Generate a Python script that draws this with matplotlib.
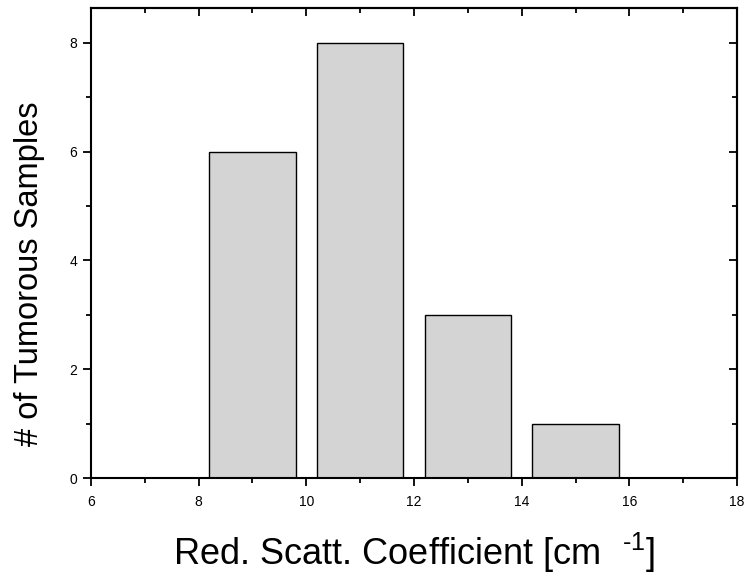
import numpy as np
import matplotlib.pyplot as plt
from matplotlib.ticker import MultipleLocator

plt.rcParams['font.family'] = ['Liberation Sans', 'DejaVu Sans']
plt.rcParams['mathtext.fontset'] = 'custom'
plt.rcParams['mathtext.rm'] = 'Liberation Sans'
plt.rcParams['mathtext.it'] = 'Liberation Sans'

# histogram bins (centres) and counts
bin_centers = [9, 11, 13, 15]
counts = [6, 8, 3, 1]
bar_width = 1.6

fig = plt.figure(figsize=(7.45, 5.79), dpi=100)
ax = fig.add_axes([0.1221, 0.1744, 0.8672, 0.8118])

ax.bar(bin_centers, counts, width=bar_width, color='#d4d4d4',
       edgecolor='black', linewidth=1.0, zorder=2)

ax.set_xlim(6, 18)
ax.set_ylim(0, 8.64)
ax.xaxis.set_major_locator(MultipleLocator(2))
ax.xaxis.set_minor_locator(MultipleLocator(1))
ax.yaxis.set_major_locator(MultipleLocator(2))
ax.yaxis.set_minor_locator(MultipleLocator(1))

for s in ax.spines.values():
    s.set_linewidth(1.5)

# bottom/left ticks out
ax.tick_params(which='both', labelsize=10, width=1.3)
ax.tick_params(which='major', length=6)
ax.tick_params(which='minor', length=3.5)
ax.tick_params(axis='x', which='both', direction='out', pad=6)
ax.tick_params(axis='y', which='both', direction='out', pad=4)

# top/right ticks point inward
sec_x = ax.secondary_xaxis('top')
sec_x.xaxis.set_major_locator(MultipleLocator(2))
sec_x.xaxis.set_minor_locator(MultipleLocator(1))
sec_x.tick_params(which='both', direction='in', labeltop=False, width=1.3)
sec_x.tick_params(which='major', length=6)
sec_x.tick_params(which='minor', length=3.5)
sec_x.spines['top'].set_linewidth(1.5)
sec_y = ax.secondary_yaxis('right')
sec_y.yaxis.set_major_locator(MultipleLocator(2))
sec_y.yaxis.set_minor_locator(MultipleLocator(1))
sec_y.tick_params(which='both', direction='in', labelright=False, width=1.3)
sec_y.tick_params(which='major', length=6)
sec_y.tick_params(which='minor', length=3.5)
sec_y.spines['right'].set_linewidth(1.5)

ax.set_xlabel(r'Red. Scatt. Coefficient [cm$^{\ \ \ \text{-1}}$]', fontsize=26, labelpad=16)
ax.set_ylabel('# of Tumorous Samples', fontsize=23.5)
ax.yaxis.set_label_coords(-0.071, 0.434)

fig.savefig('out.png', dpi=100)
